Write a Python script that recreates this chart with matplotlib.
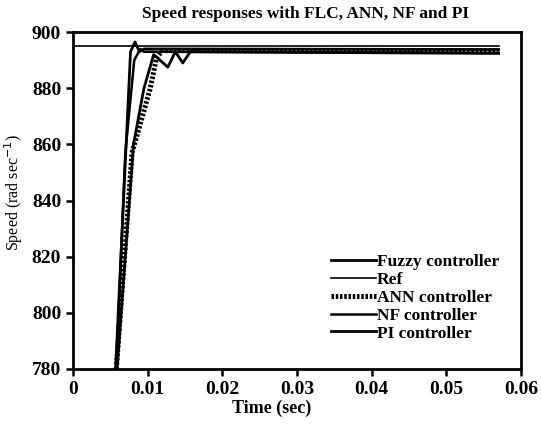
import matplotlib.pyplot as plt

plt.rcParams['font.family'] = ['Liberation Serif', 'DejaVu Serif']

# waypoints (time in sec, speed in rad/sec)
t_fuzzy = [0.0057, 0.0077, 0.0083, 0.0089, 0.0095, 0.057]
w_fuzzy = [780, 893, 896.5, 893, 894, 893.8]

t_ref = [0.0, 0.057]
w_ref = [895.2, 895.2]

t_ann = [0.0058, 0.0079, 0.0103, 0.0112, 0.0120, 0.057]
w_ann = [780, 857, 879.5, 891, 893.5, 893.3]

t_nf = [0.0058, 0.0070, 0.0082, 0.0090, 0.0095, 0.057]
w_nf = [780, 857, 890, 894, 893, 892.6]

t_pi = [0.0059, 0.0081, 0.0095, 0.0108, 0.0127, 0.0137, 0.0147, 0.0157, 0.057]
w_pi = [780, 860, 880, 892, 887.5, 893, 889, 893, 892.4]

labels = ['Fuzzy controller', 'Ref', 'ANN controller', 'NF controller', 'PI controller']

fig = plt.figure(figsize=(5.41, 4.28), dpi=100)
ax = fig.add_axes([0.135, 0.138, 0.828, 0.787])

ax.plot(t_fuzzy, w_fuzzy, color='black', lw=2.0, label=labels[0])
ax.plot(t_ref, w_ref, color='black', lw=1.2, label=labels[1])
ax.plot(t_ann, w_ann, color='black', lw=3.6, ls=(0, (0.5, 0.35)), label=labels[2])
ax.plot(t_nf, w_nf, color='black', lw=1.8, label=labels[3])
ax.plot(t_pi, w_pi, color='black', lw=2.0, label=labels[4])

ax.set_xlim(0, 0.06)
ax.set_ylim(780, 900)
ax.set_xticks([0, 0.01, 0.02, 0.03, 0.04, 0.05, 0.06])
ax.set_xticklabels(['0', '0.01', '0.02', '0.03', '0.04', '0.05', '0.06'])
ax.set_yticks([780, 800, 820, 840, 860, 880, 900])

for s in ax.spines.values():
    s.set_linewidth(2)
ax.tick_params(direction='out', length=5, width=1.8, labelsize=14)
for lab in ax.get_xticklabels() + ax.get_yticklabels():
    lab.set_fontweight('bold')

ax.set_xlabel('Time (sec)', fontsize=13, fontweight='bold')
ax.xaxis.set_label_coords(0.443, -0.09)
ax.set_ylabel('Speed (rad sec$^{-1}$)', fontsize=11.5)
ax.yaxis.set_label_coords(-0.107, 0.525)
ax.set_title('Speed responses with FLC, ANN, NF and PI', fontsize=12.5,
             fontweight='bold', x=0.518, pad=10)

leg = ax.legend(loc='lower right', bbox_to_anchor=(0.985, 0.035), frameon=False,
                handlelength=2.6, handletextpad=0.05, labelspacing=0.1,
                prop={'size': 12.5, 'weight': 'bold'})

plt.savefig('out.png', dpi=100)
